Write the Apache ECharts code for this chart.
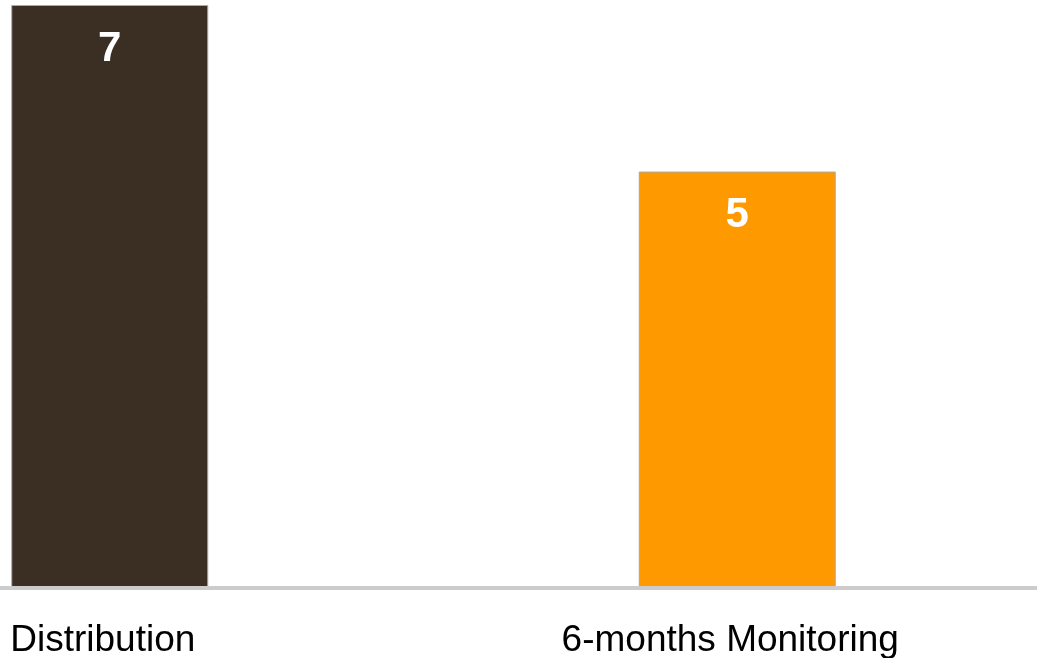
<!DOCTYPE html>
<html>
<head>
<meta charset="utf-8">
<script src="https://cdn.jsdelivr.net/npm/echarts@6/dist/echarts.min.js"></script>
<style>
  html, body { margin: 0; padding: 0; background: #ffffff; }
  #chart { width: 1037px; height: 658px; }
</style>
</head>
<body>
<div id="chart"></div>
<script>
// Category names along the x axis
const categories = ['Distribution', '6-months Monitoring'];
// Count for each stage
const counts = [7, 5];
// Fill colour for each stage
const barColors = ['#3b2e23', '#ff9900'];

const chart = echarts.init(document.getElementById('chart'));

chart.setOption({
  animation: false,
  backgroundColor: '#ffffff',
  grid: {
    left: -204,
    right: -14,
    top: 5,
    bottom: 70,
    containLabel: false,
    outerBoundsMode: 'none'
  },
  xAxis: {
    type: 'category',
    data: categories,
    z: 3,
    axisLine: { show: true, lineStyle: { color: '#cccccc', width: 4 } },
    axisTick: { show: false },
    axisLabel: {
      color: '#000000',
      fontFamily: 'Liberation Sans, Arial, sans-serif',
      fontSize: 37,
      margin: 34,
      padding: [0, 14, 0, 0],
      interval: 0
    }
  },
  yAxis: {
    type: 'value',
    min: 0,
    max: 7,
    show: false,
    splitLine: { show: false }
  },
  series: [{
    type: 'bar',
    data: counts.map((v, i) => ({ value: v, itemStyle: { color: barColors[i] } })),
    barWidth: 197,
    itemStyle: { borderColor: '#a8a8a8', borderWidth: 1 },
    label: {
      show: true,
      position: 'insideTop',
      distance: 23,
      color: '#ffffff',
      fontFamily: 'Liberation Sans, Arial, sans-serif',
      fontWeight: 'bold',
      fontSize: 42
    }
  }]
});
</script>
</body>
</html>
